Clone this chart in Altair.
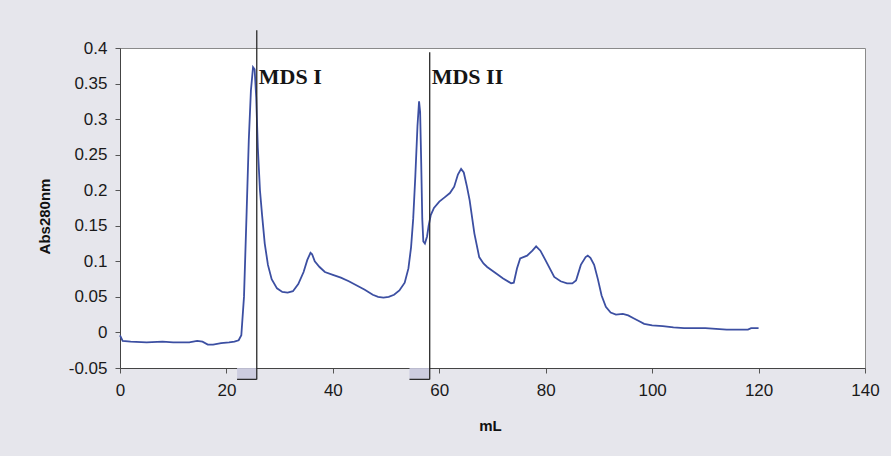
import altair as alt
import pandas as pd

# Elution volume (mL) and absorbance at 280 nm
ml = [0, 0.5, 2, 5, 8, 10, 13, 14.5, 15.5, 16.5, 17.5, 19, 20.5, 21.5, 22.3, 22.8,
      23.3, 23.8, 24.2, 24.6, 25.0, 25.3, 25.6, 25.9, 26.3, 26.7, 27.2, 27.8, 28.5,
      29.5, 30.5, 31.5, 32.5, 33.5, 34.5, 35.2, 35.8, 36.1, 36.6, 37.5, 38.5, 40,
      41.5, 43, 44.5, 46, 47.5, 48.5, 49.5, 50.5, 51.5, 52.5, 53.5, 54.2, 54.7, 55.1,
      55.5, 55.9, 56.2, 56.4, 56.6, 56.8, 57.0, 57.3, 57.7, 58.0, 58.4, 59, 60, 61,
      62, 62.8, 63.5, 64.1, 64.6, 65.2, 65.7, 66.6, 67.5, 68.3, 69.0, 70.7, 72.0,
      73.5, 74.0, 74.6, 75.2, 76.5, 77.5, 78.2, 79.0, 80.0, 81.6, 82.8, 84.0, 85.0,
      85.7, 86.6, 87.5, 87.9, 88.4, 89.1, 89.8, 90.5, 91.3, 92.2, 93.2, 94.5, 95.5,
      96.5, 97.5, 98.5, 100, 102, 104, 106, 108, 110, 112, 114, 116, 118, 118.6, 120]
absorbance = [-0.004, -0.012, -0.013, -0.014, -0.013, -0.014, -0.014, -0.012, -0.013,
              -0.017, -0.017, -0.015, -0.014, -0.013, -0.011, -0.004,
              0.05, 0.17, 0.27, 0.34, 0.373, 0.37, 0.33, 0.26, 0.20, 0.165, 0.125,
              0.095, 0.075, 0.062, 0.057, 0.056, 0.058, 0.068, 0.085, 0.102, 0.112,
              0.11, 0.10, 0.092, 0.085, 0.081, 0.077, 0.072, 0.066, 0.060, 0.053,
              0.050, 0.049, 0.050, 0.053, 0.059, 0.070, 0.09, 0.12, 0.16, 0.22, 0.29,
              0.325, 0.31, 0.24, 0.16, 0.128, 0.125, 0.135, 0.15, 0.165, 0.175,
              0.184, 0.19, 0.196, 0.205, 0.222, 0.230, 0.225, 0.205, 0.186, 0.139,
              0.106, 0.097, 0.092, 0.083, 0.076, 0.069, 0.070, 0.09, 0.104, 0.108,
              0.115, 0.121, 0.115, 0.101, 0.078, 0.072, 0.069, 0.069, 0.073, 0.095,
              0.106, 0.108, 0.105, 0.095, 0.075, 0.052, 0.036, 0.028, 0.025, 0.026,
              0.024, 0.020, 0.016, 0.012, 0.010, 0.009, 0.007, 0.006, 0.006, 0.006,
              0.005, 0.004, 0.004, 0.004, 0.006, 0.006]

# Fraction markers
frac_labels = ["MDS I", "MDS II"]
frac_end = [25.7, 58.2]
frac_start = [22.0, 54.4]
frac_top = [0.425, 0.394]
frac_bottom = [-0.066, -0.066]
label_y = [0.35, 0.35]

y_ticks = [-0.05, 0, 0.05, 0.1, 0.15, 0.2, 0.25, 0.3, 0.35, 0.4]
x_ticks = [0, 20, 40, 60, 80, 100, 120, 140]

curve = pd.DataFrame({"ml": ml, "abs": absorbance})
fracs = pd.DataFrame({"label": frac_labels, "end": frac_end, "start": frac_start,
                      "top": frac_top, "bottom": frac_bottom, "ly": label_y,
                      "axis": [-0.05, -0.05]})

xs = alt.Scale(domain=[0, 140], nice=False, zero=False)
ys = alt.Scale(domain=[-0.05, 0.4], nice=False, zero=False)

xaxis = alt.Axis(values=x_ticks, tickCount=len(x_ticks), title="mL", grid=False,
                 labelFont="Liberation Sans",
                 labelFontSize=17, labelColor="#1a1a1a", labelPadding=9, tickSize=5,
                 labelOverlap=False, labelFlush=False, labelBound=False,
                 tickColor="#555", domainColor="#444", titleFont="Liberation Sans",
                 titleFontSize=15, titleFontWeight="bold", titleColor="#111",
                 titleX=370, titleY=57, titleBaseline="middle")
yaxis = alt.Axis(values=y_ticks, tickCount=len(y_ticks), title="Abs280nm", grid=False,
                 labelExpr="datum.value < 0 ? '-' + format(-datum.value, '~g') : format(datum.value, '~g')",
                 labelFont="Liberation Sans", labelFontSize=17, labelColor="#1a1a1a",
                 labelOverlap=False, labelFlush=False, labelBound=False,
                 labelPadding=8, tickSize=5, tickColor="#555", domainColor="#444",
                 titleFont="Liberation Sans", titleFontSize=15, titleFontWeight="bold",
                 titleColor="#111", titleAngle=-90, titleX=-76, titleY=168,
                 titleBaseline="middle", titleAlign="center")

line = alt.Chart(curve).mark_line(color="#3c4fa2", strokeWidth=1.8).encode(
    x=alt.X("ml:Q", scale=xs, axis=xaxis),
    y=alt.Y("abs:Q", scale=ys, axis=yaxis),
    order="ml:Q",
)

shade = alt.Chart(fracs).mark_rect(color="#c9c9de", opacity=0.9).encode(
    x=alt.X("start:Q", scale=xs), x2="end:Q",
    y=alt.Y("axis:Q", scale=ys), y2="bottom:Q",
)

vrule = alt.Chart(fracs).mark_rule(color="#2a2a2a", strokeWidth=1.3).encode(
    x=alt.X("end:Q", scale=xs), y=alt.Y("top:Q", scale=ys), y2="bottom:Q",
)

hrule = alt.Chart(fracs).mark_rule(color="#2a2a2a", strokeWidth=1.3).encode(
    x=alt.X("start:Q", scale=xs), x2="end:Q", y=alt.Y("bottom:Q", scale=ys),
)

labels = alt.Chart(fracs).mark_text(font="Liberation Serif", fontWeight="bold",
                                    fontSize=22, color="#151515", align="left",
                                    baseline="alphabetic", dx=2).encode(
    x=alt.X("end:Q", scale=xs), y=alt.Y("ly:Q", scale=ys), text="label:N",
)

chart = alt.layer(shade, line, vrule, hrule, labels).properties(
    width=745, height=320,
    autosize=alt.AutoSizeParams(type="none"),
    padding={"left": 120, "top": 48, "right": 26, "bottom": 88},
    background="#e6e6ec",
).configure_view(fill="white", stroke="#8a8a8a", strokeWidth=1)

chart.save("out.html", embed_options={"renderer": "svg", "actions": False})
